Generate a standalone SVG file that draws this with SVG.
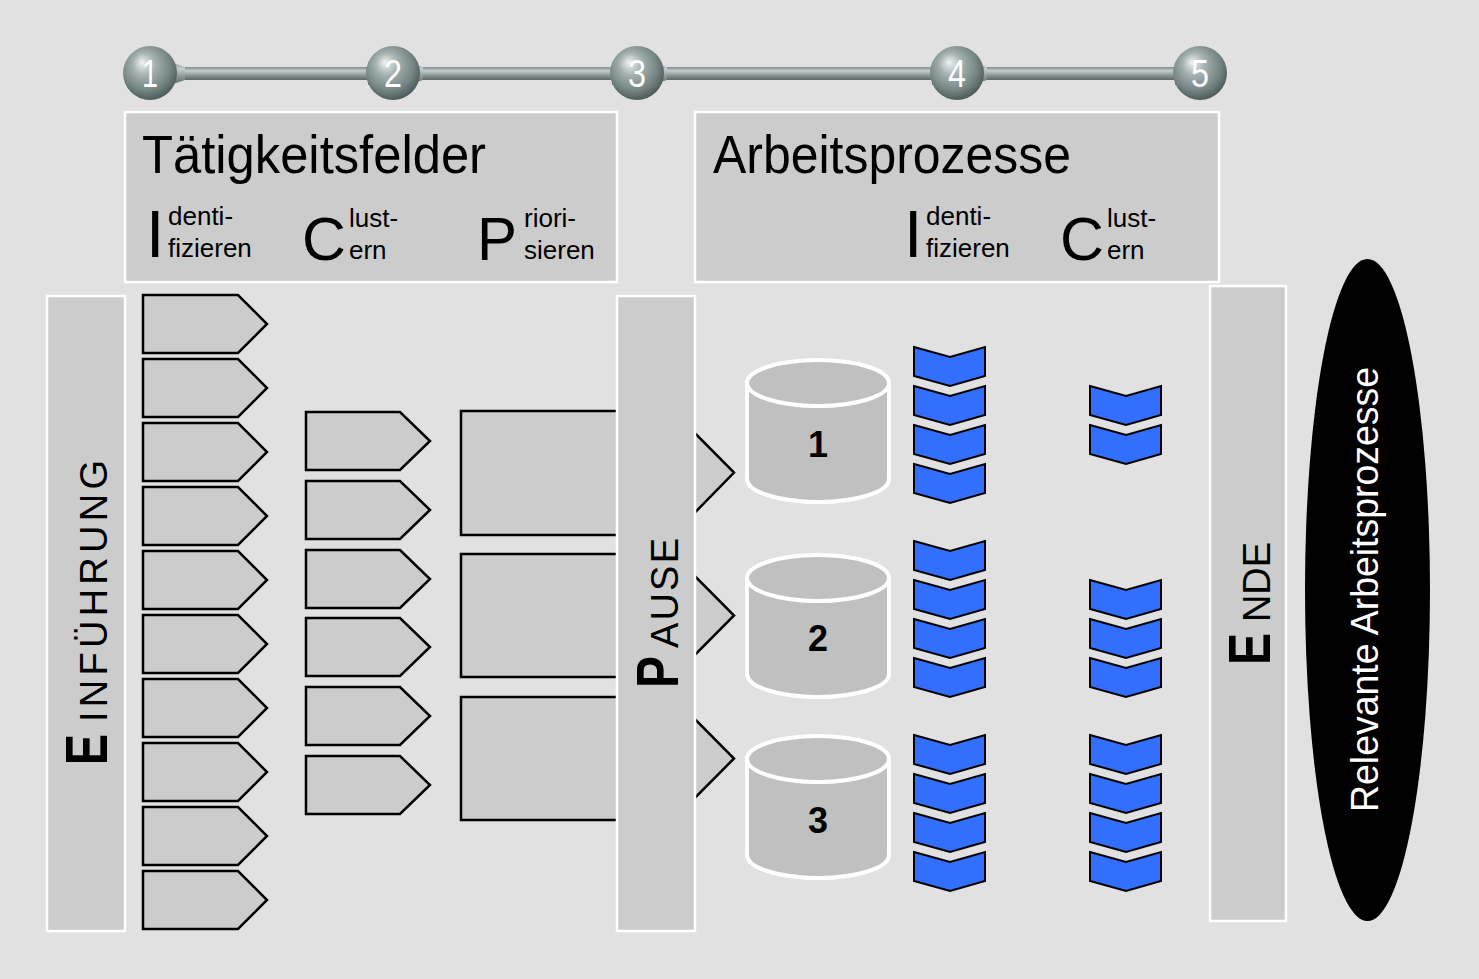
<svg xmlns="http://www.w3.org/2000/svg" xmlns:xlink="http://www.w3.org/1999/xlink" width="1479" height="979" viewBox="0 0 1479 979">
<defs>
<radialGradient id="ball" cx="0.45" cy="0.4" r="0.6" fx="0.35" fy="0.3">
<stop offset="0" stop-color="#eef3f2"/>
<stop offset="0.35" stop-color="#a3b1b0"/>
<stop offset="0.75" stop-color="#748584"/>
<stop offset="1" stop-color="#4e5c5b"/>
</radialGradient>
<linearGradient id="bar" x1="0" y1="0" x2="0" y2="1">
<stop offset="0" stop-color="#7f8e8d"/>
<stop offset="0.3" stop-color="#c4cecd"/>
<stop offset="0.6" stop-color="#8e9c9b"/>
<stop offset="1" stop-color="#5a6867"/>
</linearGradient>
<path id="pL" d="M0,0 H95 L124,29 L95,58 H0 Z"/>
<path id="pM" d="M0,0 H94 L124,29 L94,58 H0 Z"/>
<path id="chev" d="M0,0 L36,10 L71,0 L71,29 L36,39 L0,29 Z"/>
</defs>
<style>
.panel{fill:#cccccc;stroke:#ffffff;stroke-width:2.5}
.pent{fill:#cccccc;stroke:#000;stroke-width:2.5;stroke-linejoin:miter}
.chev{fill:#336fff;stroke:#000;stroke-width:2}
.cyl{fill:#c0c0c0;stroke:#fff;stroke-width:4}
.t{font-family:"Liberation Sans",Arial,sans-serif;fill:#000}
.title{font-size:54px}
.big{font-size:66px}
.bigC{font-size:62px}
.sm{font-size:26px}
.num{font-family:"Liberation Sans",Arial,sans-serif;font-size:36px;font-weight:bold;fill:#000;text-anchor:middle}
.bnum{font-family:"Liberation Sans",Arial,sans-serif;font-size:38px;fill:#fff;text-anchor:middle}
.capB{font-family:"Liberation Sans",Arial,sans-serif;font-weight:bold;font-size:60px}
.capS{font-family:"Liberation Sans",Arial,sans-serif;font-size:38px}
</style>
<rect width="1479" height="979" fill="#e1e1e1"/>

<g id="timeline">
<rect x="150" y="67" width="1050" height="13" fill="url(#bar)"/>
<g fill="url(#bar)">
<polygon points="170,62 185,67 185,80 170,85"/>
<polygon points="378,67 368,62 368,85 378,80"/>
<polygon points="408,62 423,67 423,80 408,85"/>
<polygon points="622,67 612,62 612,85 622,80"/>
<polygon points="652,62 667,67 667,80 652,85"/>
<polygon points="942,67 932,62 932,85 942,80"/>
<polygon points="972,62 987,67 987,80 972,85"/>
<polygon points="1185,67 1175,62 1175,85 1185,80"/>
</g>
<g id="ball1"><circle cx="150" cy="73" r="27" fill="url(#ball)"/><text class="bnum" x="150" y="87" textLength="16" lengthAdjust="spacingAndGlyphs">1</text></g>
<g id="ball2"><circle cx="393" cy="73" r="27" fill="url(#ball)"/><text class="bnum" x="393" y="87" textLength="18" lengthAdjust="spacingAndGlyphs">2</text></g>
<g id="ball3"><circle cx="637" cy="73" r="27" fill="url(#ball)"/><text class="bnum" x="637" y="87" textLength="18" lengthAdjust="spacingAndGlyphs">3</text></g>
<g id="ball4"><circle cx="957" cy="73" r="27" fill="url(#ball)"/><text class="bnum" x="957" y="87" textLength="18" lengthAdjust="spacingAndGlyphs">4</text></g>
<g id="ball5"><circle cx="1200" cy="73" r="27" fill="url(#ball)"/><text class="bnum" x="1200" y="87" textLength="18" lengthAdjust="spacingAndGlyphs">5</text></g>
</g>

<g id="taetigkeitsfelder">
<rect class="panel" x="125" y="112" width="492" height="170"/>
<text class="t title" x="142" y="173" textLength="344" lengthAdjust="spacingAndGlyphs">Tätigkeitsfelder</text>
<text class="t big" x="146" y="257">I</text>
<text class="t sm" x="168" y="225">denti-</text>
<text class="t sm" x="168" y="257">fizieren</text>
<text class="t bigC" x="302" y="260" textLength="44" lengthAdjust="spacingAndGlyphs">C</text>
<text class="t sm" x="349" y="227">lust-</text>
<text class="t sm" x="349" y="259">ern</text>
<text class="t bigC" x="477" y="260" textLength="40" lengthAdjust="spacingAndGlyphs">P</text>
<text class="t sm" x="524" y="227">riori-</text>
<text class="t sm" x="524" y="259">sieren</text>
</g>

<g id="arbeitsprozesse">
<rect class="panel" x="695" y="112" width="524" height="170"/>
<text class="t title" x="713" y="173" textLength="358" lengthAdjust="spacingAndGlyphs">Arbeitsprozesse</text>
<text class="t big" x="904" y="257">I</text>
<text class="t sm" x="926" y="225">denti-</text>
<text class="t sm" x="926" y="257">fizieren</text>
<text class="t bigC" x="1060" y="260" textLength="44" lengthAdjust="spacingAndGlyphs">C</text>
<text class="t sm" x="1107" y="227">lust-</text>
<text class="t sm" x="1107" y="259">ern</text>
</g>

<g id="einfuehrung">
<rect class="panel" x="47" y="296" width="78" height="635"/>
<text class="capB" transform="translate(107,765) rotate(-90)" textLength="31" lengthAdjust="spacingAndGlyphs">E</text>
<text class="capS" transform="translate(107,722) rotate(-90)" textLength="262" lengthAdjust="spacing">INFÜHRUNG</text>
</g>

<g id="felder-links">
<use href="#pL" class="pent" x="143" y="295"/>
<use href="#pL" class="pent" x="143" y="359"/>
<use href="#pL" class="pent" x="143" y="423"/>
<use href="#pL" class="pent" x="143" y="487"/>
<use href="#pL" class="pent" x="143" y="551"/>
<use href="#pL" class="pent" x="143" y="615"/>
<use href="#pL" class="pent" x="143" y="679"/>
<use href="#pL" class="pent" x="143" y="743"/>
<use href="#pL" class="pent" x="143" y="807"/>
<use href="#pL" class="pent" x="143" y="871"/>
</g>

<g id="felder-cluster">
<use href="#pM" class="pent" x="306" y="412"/>
<use href="#pM" class="pent" x="306" y="481"/>
<use href="#pM" class="pent" x="306" y="550"/>
<use href="#pM" class="pent" x="306" y="618"/>
<use href="#pM" class="pent" x="306" y="687"/>
<use href="#pM" class="pent" x="306" y="756"/>
</g>

<g id="felder-prior">
<path class="pent" d="M461,411 H673 L734,472.5 L673,535 H461 Z"/>
<path class="pent" d="M461,554 H673 L734,615.5 L673,677 H461 Z"/>
<path class="pent" d="M461,697 H673 L734,758.5 L673,820 H461 Z"/>
</g>

<g id="pause">
<rect class="panel" x="617" y="296" width="78" height="635"/>
<text class="capB" transform="translate(678,688) rotate(-90)" textLength="32" lengthAdjust="spacingAndGlyphs">P</text>
<text class="capS" transform="translate(678,648) rotate(-90)" textLength="110" lengthAdjust="spacing">AUSE</text>
</g>

<g id="cyl1">
<path class="cyl" d="M747,383 V479 A71,23 0 0 0 889,479 V383"/>
<ellipse class="cyl" cx="818" cy="383" rx="71" ry="23"/>
<text class="num" x="818" y="457">1</text>
</g>
<g id="cyl2">
<path class="cyl" d="M747,578 V674 A71,23 0 0 0 889,674 V578"/>
<ellipse class="cyl" cx="818" cy="578" rx="71" ry="23"/>
<text class="num" x="818" y="651">2</text>
</g>
<g id="cyl3">
<path class="cyl" d="M747,759 V855 A71,23 0 0 0 889,855 V759"/>
<ellipse class="cyl" cx="818" cy="759" rx="71" ry="23"/>
<text class="num" x="818" y="833">3</text>
</g>

<g id="chevrons">
<use href="#chev" class="chev" x="914" y="347"/>
<use href="#chev" class="chev" x="914" y="386"/>
<use href="#chev" class="chev" x="914" y="425"/>
<use href="#chev" class="chev" x="914" y="464"/>
<use href="#chev" class="chev" x="1090" y="386"/>
<use href="#chev" class="chev" x="1090" y="425"/>
<use href="#chev" class="chev" x="914" y="541"/>
<use href="#chev" class="chev" x="914" y="580"/>
<use href="#chev" class="chev" x="914" y="619"/>
<use href="#chev" class="chev" x="914" y="658"/>
<use href="#chev" class="chev" x="1090" y="580"/>
<use href="#chev" class="chev" x="1090" y="619"/>
<use href="#chev" class="chev" x="1090" y="658"/>
<use href="#chev" class="chev" x="914" y="735"/>
<use href="#chev" class="chev" x="914" y="774"/>
<use href="#chev" class="chev" x="914" y="813"/>
<use href="#chev" class="chev" x="914" y="852"/>
<use href="#chev" class="chev" x="1090" y="735"/>
<use href="#chev" class="chev" x="1090" y="774"/>
<use href="#chev" class="chev" x="1090" y="813"/>
<use href="#chev" class="chev" x="1090" y="852"/>
</g>

<g id="ende">
<rect class="panel" x="1210" y="286" width="76" height="635"/>
<text class="capB" transform="translate(1270,665) rotate(-90)" textLength="32" lengthAdjust="spacingAndGlyphs">E</text>
<text class="capS" transform="translate(1270,622) rotate(-90)" font-size="37" textLength="80" lengthAdjust="spacing">NDE</text>
</g>

<g id="relevante">
<ellipse cx="1367.5" cy="590" rx="62.5" ry="331" fill="#000"/>
<text transform="translate(1378,812) rotate(-90)" font-family="Liberation Sans, Arial, sans-serif" font-size="38" fill="#fff" textLength="445" lengthAdjust="spacingAndGlyphs">Relevante Arbeitsprozesse</text>
</g>
</svg>
